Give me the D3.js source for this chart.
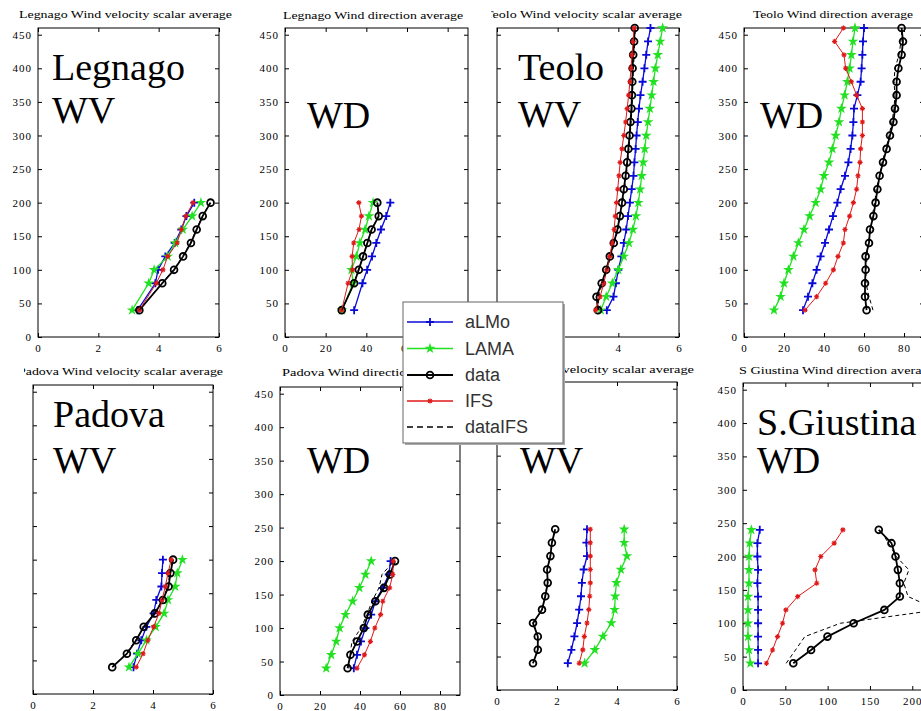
<!DOCTYPE html>
<head>
  <meta charset="utf-8">
  <script src="https://d3js.org/d3.v7.min.js"></script>
  <style>
    body { margin:0; background:#fff; }
    svg { display:block; }
    .tick text { font-family:"Liberation Serif", serif; font-size:11px; fill:#000; letter-spacing:1px; }
    .ptitle { font-family:"Liberation Serif", serif; font-size:11px; fill:#000; }
    .big { font-family:"Liberation Serif", serif; font-size:38px; fill:#000; }
    .legtext { font-family:"Liberation Sans", sans-serif; font-size:18px; fill:#333; }
  </style>
</head>
<body>
<svg id="chart" width="921" height="711"></svg>
<script>

// heights (m) of each station profile
var legnagoHeights = [40, 80, 100, 120, 140, 160, 180, 200];
var teoloHeights = [40, 60, 80, 100, 120, 140, 160, 180, 200, 220, 240, 260, 280, 300, 320, 340, 360, 380, 400, 420, 440, 460];
var padovaHeights = [40, 60, 80, 100, 120, 140, 160, 180, 200];
var giustinaHeights = [40, 60, 80, 100, 120, 140, 160, 180, 200, 220, 240];

var seriesNames = ['aLMo', 'LAMA', 'data', 'IFS', 'dataIFS'];

var legnagoWV = {
  aLMo:    [3.30, 3.89, 3.98, 4.22, 4.53, 4.75, 4.92, 5.18],
  LAMA:    [3.12, 3.67, 3.85, 4.30, 4.55, 4.80, 5.11, 5.40],
  data:    [3.36, 4.12, 4.51, 4.81, 5.07, 5.26, 5.46, 5.72],
  IFS:     [3.36, 3.92, 4.14, 4.30, 4.61, 4.75, 4.90, 5.14],
  dataIFS: [3.36, 4.10, 4.50, 4.80, 5.05, 5.25, 5.45, 5.70]
};
var legnagoWD = {
  aLMo:    [34.0, 38.1, 40.4, 42.8, 44.9, 47.2, 49.8, 51.8],
  LAMA:    [28.0, 33.5, 32.7, 35.1, 36.8, 39.4, 41.3, 43.3],
  data:    [27.9, 34.0, 36.3, 38.4, 40.5, 42.6, 46.1, 45.4],
  IFS:     [27.9, 31.0, 33.2, 33.0, 33.8, 36.4, 37.6, 36.3],
  dataIFS: [28.0, 34.0, 36.0, 38.5, 40.5, 42.5, 46.0, 45.5]
};
var teoloWV = {
  aLMo:    [3.62, 3.84, 3.92, 4.00, 4.10, 4.18, 4.26, 4.32, 4.38, 4.44, 4.50, 4.53, 4.57, 4.60, 4.64, 4.68, 4.73, 4.80, 4.86, 4.92, 4.98, 5.06],
  LAMA:    [3.42, 3.60, 3.80, 4.00, 4.18, 4.35, 4.48, 4.58, 4.66, 4.72, 4.77, 4.82, 4.87, 4.92, 4.98, 5.04, 5.10, 5.16, 5.22, 5.30, 5.38, 5.46],
  data:    [3.33, 3.28, 3.45, 3.60, 3.72, 3.85, 3.97, 4.05, 4.12, 4.18, 4.24, 4.29, 4.33, 4.37, 4.40, 4.43, 4.45, 4.46, 4.47, 4.49, 4.52, 4.54],
  IFS:     [3.25, 3.40, 3.52, 3.62, 3.72, 3.80, 3.86, 3.90, 3.94, 3.98, 4.02, 4.06, 4.12, 4.18, 4.24, 4.29, 4.34, 4.38, 4.42, 4.45, 4.49, 4.52],
  dataIFS: [3.36, 3.33, 3.48, 3.62, 3.75, 3.87, 3.99, 4.07, 4.14, 4.20, 4.26, 4.31, 4.35, 4.39, 4.42, 4.45, 4.47, 4.48, 4.50, 4.52, 4.54, 4.56]
};
var teoloWD = {
  aLMo:    [29.5, 32.0, 34.2, 36.3, 38.3, 40.5, 42.5, 44.5, 46.7, 48.3, 50.5, 52.2, 53.3, 54.2, 54.7, 55.0, 56.7, 58.3, 58.8, 59.2, 59.5, 60.0],
  LAMA:    [15.0, 18.3, 20.0, 22.2, 24.7, 27.2, 30.0, 32.8, 35.8, 38.3, 40.0, 42.5, 44.2, 45.8, 47.5, 48.7, 50.3, 51.7, 52.8, 53.7, 54.5, 55.5],
  data:    [61.3, 60.5, 60.5, 60.8, 60.8, 62.5, 63.0, 64.7, 65.8, 66.7, 67.8, 69.5, 71.3, 73.0, 74.7, 75.5, 76.3, 76.3, 77.2, 78.8, 79.5, 78.8],
  IFS:     [30.5, 36.3, 40.8, 44.7, 47.0, 49.7, 50.5, 52.8, 54.7, 56.3, 57.0, 58.0, 58.3, 59.2, 59.2, 59.2, 56.3, 53.7, 50.8, 50.0, 45.3, 49.7],
  dataIFS: [64.5, 62.5, 61.0, 61.0, 61.5, 62.0, 63.5, 64.0, 65.5, 66.0, 68.0, 69.0, 71.0, 72.5, 74.0, 75.0, 75.5, 75.0, 75.5, 77.5, 78.5, 79.0]
};
var padovaWV = {
  aLMo:    [3.35, 3.47, 3.61, 3.78, 4.02, 4.11, 4.28, 4.30, 4.33],
  LAMA:    [3.20, 3.50, 3.78, 4.09, 4.37, 4.50, 4.74, 4.81, 4.98],
  data:    [2.64, 3.13, 3.44, 3.69, 4.06, 4.33, 4.52, 4.58, 4.67],
  IFS:     [3.44, 3.67, 3.83, 4.02, 4.20, 4.30, 4.41, 4.50, 4.61],
  dataIFS: [2.66, 3.10, 3.42, 3.70, 4.05, 4.30, 4.50, 4.56, 4.66]
};
var padovaWD = {
  aLMo:    [36.9, 38.5, 40.5, 42.7, 45.6, 47.7, 51.4, 54.4, 55.3],
  LAMA:    [23.1, 25.6, 28.1, 29.8, 32.7, 36.3, 39.7, 42.7, 45.6],
  data:    [33.8, 35.2, 38.5, 41.9, 43.9, 47.7, 52.0, 55.0, 57.5],
  IFS:     [38.5, 42.2, 45.2, 47.4, 50.3, 51.4, 54.8, 56.4, 56.6],
  dataIFS: [34.5, 35.0, 36.0, 40.5, 43.5, 46.0, 49.5, 51.0, 57.0]
};
var giustinaWV = {
  aLMo:    [2.36, 2.48, 2.58, 2.67, 2.74, 2.80, 2.83, 2.89, 3.00, 2.98, 3.00],
  LAMA:    [2.92, 3.26, 3.53, 3.81, 3.92, 3.94, 3.98, 4.13, 4.33, 4.24, 4.24],
  data:    [1.20, 1.36, 1.36, 1.20, 1.50, 1.61, 1.69, 1.67, 1.78, 1.83, 1.94],
  IFS:     [2.74, 2.86, 2.91, 3.00, 3.06, 3.09, 3.11, 3.11, 3.11, 3.11, 3.11],
  dataIFS: [1.20, 1.36, 1.36, 1.22, 1.50, 1.60, 1.69, 1.68, 1.78, 1.83, 1.94]
};
var giustinaWD = {
  aLMo:    [17.8, 17.8, 17.8, 17.8, 17.8, 17.8, 17.0, 17.8, 17.0, 17.0, 19.8],
  LAMA:    [8.7, 7.1, 5.9, 5.9, 5.9, 5.9, 7.1, 7.1, 7.1, 7.9, 9.9],
  data:    [59.4, 80.4, 99.8, 130.7, 167.0, 185.3, 185.3, 183.0, 180.2, 175.4, 160.4],
  IFS:     [27.7, 34.9, 40.8, 46.7, 50.7, 64.6, 87.1, 85.1, 91.9, 107.7, 118.0],
  dataIFS: [51.0, 62.0, 73.0, 115.0, 230.0, 195.0, 190.0, 196.0, 181.0, 172.0, 162.0]
};

var yTicks = [0, 50, 100, 150, 200, 250, 300, 350, 400, 450];
var wvTicks = [0, 2, 4, 6];
var wdTicks = [0, 20, 40, 60, 80];
var wdTicksWide = [0, 50, 100, 150, 200];

// layout of the 8 small plots: box = [left, right, top, bottom], clip = [x0, y0, x1, y1]
var panels = [
  {h:legnagoHeights, d:legnagoWV, box:[38,219,28,337], xDom:[0,6], xTicks:wvTicks, yLab:true,
   title:'Legnago Wind velocity scalar average', tx:19, tw:213, ty:18, clip:[0,0,240,360],
   big:['Legnago','WV'], bx:52, by:[80,123]},
  {h:legnagoHeights, d:legnagoWD, box:[285,468,28,337], xDom:[0,90], xTicks:wdTicks, yLab:true,
   title:'Legnago Wind direction average', tx:283, tw:180, ty:19, clip:[240,0,491,360],
   big:['WD'], bx:307, by:[128]},
  {h:teoloHeights, d:teoloWV, box:[497,679,28,337], xDom:[0,6], xTicks:wvTicks, yLab:false,
   title:'Teolo Wind velocity scalar average', tx:485, tw:197, ty:18, clip:[491,0,710,360],
   big:['Teolo','WV'], bx:518, by:[80,127]},
  {h:teoloHeights, d:teoloWD, box:[744,924,28,337], xDom:[0,90], xTicks:wdTicks, yLab:true,
   title:'Teolo Wind direction average', tx:753, tw:160, ty:18, clip:[710,0,921,360],
   big:['WD'], bx:760, by:[128]},
  {h:padovaHeights, d:padovaWV, box:[33,213,385,694], xDom:[0,6], xTicks:wvTicks, yLab:false,
   title:'Padova Wind velocity scalar average', tx:18, tw:205, ty:375, clip:[24,360,240,711],
   big:['Padova','WV'], bx:53, by:[427,473]},
  {h:padovaHeights, d:padovaWD, box:[280,460,387,695], xDom:[0,90], xTicks:wdTicks, yLab:true,
   title:'Padova Wind direction average', tx:282, tw:180, ty:376, clip:[240,360,491,711],
   big:['WD'], bx:307, by:[473]},
  {h:giustinaHeights, d:giustinaWV, box:[497,677,382,690], xDom:[0,6], xTicks:wvTicks, yLab:false,
   title:'S Giustina Wind velocity scalar average', tx:464, tw:230, ty:373, clip:[491,360,710,711],
   big:['WV'], bx:520, by:[473]},
  {h:giustinaHeights, d:giustinaWD, box:[743,980,383,690], xDom:[0,280], xTicks:wdTicksWide, yLab:true,
   title:'S Giustina Wind direction average', tx:739, tw:196, ty:374, clip:[710,360,921,711],
   big:['S.Giustina','WD'], bx:757, by:[435,473]}
];

var colors = {aLMo:'#0a0ad8', LAMA:'#22e022', data:'#000', IFS:'#e01818', dataIFS:'#000'};
var widths = {aLMo:1.3, LAMA:1.3, data:1.8, IFS:1, dataIFS:1};

var svg = d3.select('#chart');
var defs = svg.append('defs');

function drawMarker(sel, name, px, py) {
  if (name == 'aLMo') {
    sel.append('path').attr('d', 'M' + (px-4) + ',' + py + 'H' + (px+4) + 'M' + px + ',' + (py-4) + 'V' + (py+4))
      .attr('stroke', colors.aLMo).attr('stroke-width', 1.8).attr('fill', 'none');
  } else if (name == 'LAMA') {
    sel.append('path').attr('d', d3.symbol(d3.symbolStar, 36)())
      .attr('transform', 'translate(' + px + ',' + py + ')').attr('fill', colors.LAMA);
  } else if (name == 'data') {
    sel.append('circle').attr('cx', px).attr('cy', py).attr('r', 3.4)
      .attr('fill', 'none').attr('stroke', '#000').attr('stroke-width', 1.8);
  } else if (name == 'IFS') {
    var s = 2.6;
    sel.append('path').attr('d', 'M' + (px-s) + ',' + py + 'H' + (px+s) +
        'M' + (px-s*0.7) + ',' + (py-s*0.7) + 'L' + (px+s*0.7) + ',' + (py+s*0.7) +
        'M' + (px-s*0.7) + ',' + (py+s*0.7) + 'L' + (px+s*0.7) + ',' + (py-s*0.7) +
        'M' + px + ',' + (py-s) + 'V' + (py+s))
      .attr('stroke', colors.IFS).attr('stroke-width', 1.1).attr('fill', 'none');
  }
}

panels.forEach(function(p, i) {
  defs.append('clipPath').attr('id', 'clip' + i).append('rect')
    .attr('x', p.clip[0]).attr('y', p.clip[1])
    .attr('width', p.clip[2] - p.clip[0]).attr('height', p.clip[3] - p.clip[1]);

  var g = svg.append('g').attr('clip-path', 'url(#clip' + i + ')');

  var x = d3.scaleLinear().domain(p.xDom).range([p.box[0], p.box[1]]);
  var y = d3.scaleLinear().domain([0, 460]).range([p.box[3], p.box[2]]);

  // title
  g.append('text').attr('class', 'ptitle')
    .attr('x', p.tx).attr('y', p.ty)
    .attr('textLength', p.tw).attr('lengthAdjust', 'spacingAndGlyphs')
    .text(p.title);

  // frame
  g.append('rect').attr('x', p.box[0]).attr('y', p.box[2])
    .attr('width', p.box[1] - p.box[0]).attr('height', p.box[3] - p.box[2])
    .attr('fill', '#fff').attr('stroke', '#000').attr('stroke-width', 1);

  // axes, ticks pointing inward like matlab
  var xb = g.append('g').attr('transform', 'translate(0,' + p.box[3] + ')')
    .call(d3.axisBottom(x).tickValues(p.xTicks).tickSizeInner(-4).tickSizeOuter(0).tickPadding(7)
      .tickFormat(d3.format('d')));
  var xt = g.append('g').attr('transform', 'translate(0,' + p.box[2] + ')')
    .call(d3.axisTop(x).tickValues(p.xTicks).tickSizeInner(-4).tickSizeOuter(0).tickFormat(''));
  var yl = g.append('g').attr('transform', 'translate(' + p.box[0] + ',0)')
    .call(d3.axisLeft(y).tickValues(yTicks).tickSizeInner(-4).tickSizeOuter(0).tickPadding(6)
      .tickFormat(p.yLab ? d3.format('d') : ''));
  var yr = g.append('g').attr('transform', 'translate(' + p.box[1] + ',0)')
    .call(d3.axisRight(y).tickValues(yTicks).tickSizeInner(-4).tickSizeOuter(0).tickFormat(''));
  [xb, xt, yl, yr].forEach(function(a) {
    a.select('.domain').remove();
    a.attr('font-family', null).attr('font-size', null);
  });

  // big labels
  p.big.forEach(function(t, k) {
    g.append('text').attr('class', 'big').attr('x', p.bx).attr('y', p.by[k]).text(t);
  });

  // series
  seriesNames.forEach(function(name) {
    var pts = p.h.map(function(hh, j) { return [p.d[name][j], hh]; });
    var line = d3.line().x(function(d) { return x(d[0]); }).y(function(d) { return y(d[1]); });
    g.append('path').datum(pts).attr('d', line)
      .attr('fill', 'none').attr('stroke', colors[name]).attr('stroke-width', widths[name])
      .attr('stroke-dasharray', name == 'dataIFS' ? '4,3' : null);
    var mg = g.append('g');
    pts.forEach(function(d) { drawMarker(mg, name, x(d[0]), y(d[1])); });
  });
});

// legend
var leg = svg.append('g');
leg.append('rect').attr('x', 405).attr('y', 304).attr('width', 160).attr('height', 141).attr('fill', '#aaa');
leg.append('rect').attr('x', 403).attr('y', 302).attr('width', 160).attr('height', 141)
  .attr('fill', '#fff').attr('stroke', '#666').attr('stroke-width', 1);
var legY = [322, 348.5, 375, 401, 427];
seriesNames.forEach(function(name, k) {
  var yy = legY[k];
  leg.append('line').attr('x1', 407).attr('x2', 453).attr('y1', yy).attr('y2', yy)
    .attr('stroke', colors[name]).attr('stroke-width', name == 'data' ? 2 : 1.5)
    .attr('stroke-dasharray', name == 'dataIFS' ? '6,4' : null);
  drawMarker(leg, name, 430, yy);
  leg.append('text').attr('class', 'legtext').attr('x', 465).attr('y', yy + 6).text(name);
});

</script>
</body>
